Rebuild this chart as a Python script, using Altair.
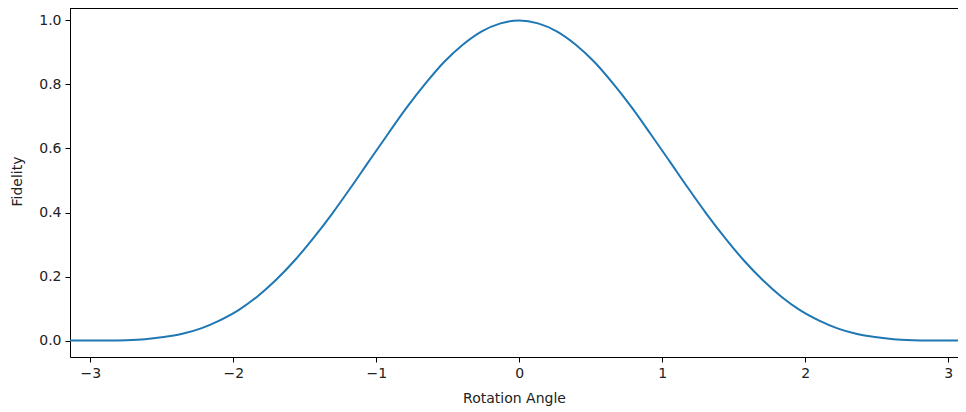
import altair as alt
import pandas as pd

# Rotation angle samples (radians) and the fidelity
angle = [-3.142, -3.011, -2.880, -2.749, -2.618, -2.487, -2.356, -2.225, -2.094,
         -1.963, -1.833, -1.702, -1.571, -1.440, -1.309, -1.178, -1.047, -0.916,
         -0.785, -0.654, -0.524, -0.393, -0.262, -0.131, 0.000,
         0.131, 0.262, 0.393, 0.524, 0.654, 0.785, 0.916, 1.047, 1.178, 1.309,
         1.440, 1.571, 1.702, 1.833, 1.963, 2.094, 2.225, 2.356, 2.487, 2.618,
         2.749, 2.880, 3.011, 3.142]
fidelity = [0.000, 0.000, 0.000, 0.001, 0.004, 0.011, 0.021, 0.038, 0.063,
            0.095, 0.137, 0.189, 0.250, 0.320, 0.396, 0.478, 0.563, 0.647,
            0.729, 0.804, 0.871, 0.925, 0.966, 0.991, 1.000,
            0.991, 0.966, 0.925, 0.871, 0.804, 0.729, 0.647, 0.563, 0.478, 0.396,
            0.320, 0.250, 0.189, 0.137, 0.095, 0.063, 0.038, 0.021, 0.011, 0.004,
            0.001, 0.000, 0.000, 0.000]

x_ticks = [-3, -2, -1, 0, 1, 2, 3]
y_ticks = [0.0, 0.2, 0.4, 0.6, 0.8, 1.0]

df = pd.DataFrame({"angle": angle, "fidelity": fidelity})

FONT = "DejaVu Sans"
W, H = 888, 349

line = alt.Chart(df).mark_line(
    color="#1f77b4", strokeWidth=2, interpolate="monotone", clip=True
).encode(
    x=alt.X(
        "angle:Q",
        scale=alt.Scale(domain=[-3.1416, 3.068], nice=False, zero=False),
        axis=alt.Axis(
            values=x_ticks, format="d", title="Rotation Angle",
            grid=False, domainColor="#000", domainWidth=1,
            tickColor="#000", tickSize=5, tickWidth=1,
            labelFont=FONT, labelFontSize=14, labelColor="#222", labelPadding=4,
            titleFont=FONT, titleFontSize=14, titleFontWeight="normal",
            titleColor="#222", titleY=45, titleBaseline="alphabetic",
        ),
    ),
    y=alt.Y(
        "fidelity:Q",
        scale=alt.Scale(domain=[-0.0515, 1.039], nice=False, zero=False),
        axis=alt.Axis(
            values=y_ticks, format=".1f", title="Fidelity",
            grid=False, domainColor="#000", domainWidth=1,
            tickColor="#000", tickSize=5, tickWidth=1,
            labelFont=FONT, labelFontSize=14, labelColor="#222", labelPadding=4,
            titleFont=FONT, titleFontSize=14, titleFontWeight="normal",
            titleColor="#222", titleX=-53, titleY=173, titleAngle=-90,
            titleAlign="center", titleBaseline="middle",
        ),
    ),
)

top = alt.Chart(df).mark_rule(color="#000", strokeWidth=1).encode(
    x=alt.value(0), x2=alt.value(W), y=alt.value(0.5)
)

chart = alt.layer(line, top).properties(
    width=W, height=H,
    autosize=alt.AutoSizeParams(type="none"),
    padding={"left": 62, "top": 0, "right": 0, "bottom": 50},
).configure_view(stroke=None).configure(background="white")

chart.save("out.html", embed_options={"renderer": "svg", "actions": False})
